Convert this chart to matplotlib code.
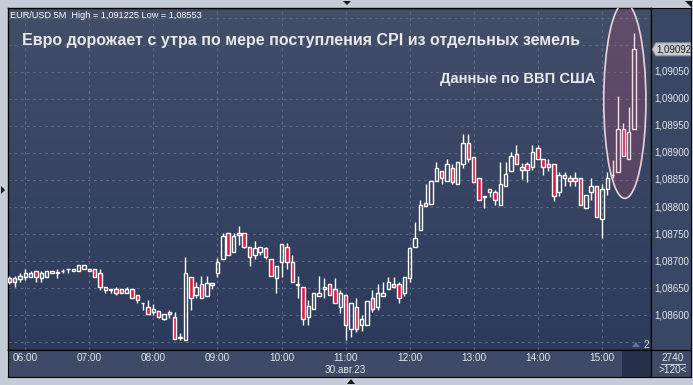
import numpy as np
import matplotlib
matplotlib.use('Agg')
import matplotlib.pyplot as plt
from matplotlib.colors import LinearSegmentedColormap
from matplotlib.patches import Ellipse, Polygon, Rectangle

plt.rcParams['font.family'] = ['Liberation Sans', 'DejaVu Sans']

# EUR/USD 5M candles, 05:45 .. 15:30 (30.08.23)
opens = [1.08668, 1.08668, 1.08667, 1.08671, 1.08671, 1.08682, 1.08668, 1.08671, 1.08677, 1.08678,
         1.08681, 1.08685, 1.08682, 1.08682, 1.08686, 1.08686, 1.08686, 1.08677, 1.08646, 1.08646,
         1.08648, 1.08648, 1.08640, 1.08648, 1.08637, 1.08622, 1.08615, 1.08606, 1.08607, 1.08593,
         1.08606, 1.08596, 1.08558, 1.08554, 1.08671, 1.08637, 1.08657, 1.08636, 1.08656, 1.08677,
         1.08704, 1.08751, 1.08716, 1.08751, 1.08751, 1.08726, 1.08712, 1.08716, 1.08724, 1.08703,
         1.08668, 1.08699, 1.08726, 1.08698, 1.08656, 1.08651, 1.08597, 1.08611, 1.08636, 1.08648,
         1.08657, 1.08648, 1.08615, 1.08637, 1.08575, 1.08615, 1.08581, 1.08581, 1.08631, 1.08615,
         1.08636, 1.08648, 1.08657, 1.08657, 1.08640, 1.08668, 1.08726, 1.08757, 1.08807, 1.08806,
         1.08848, 1.08867, 1.08848, 1.08873, 1.08842, 1.08879, 1.08918, 1.08893, 1.08853, 1.08818,
         1.08827, 1.08827, 1.08804, 1.08839, 1.08867, 1.08899, 1.08874, 1.08879, 1.08874, 1.08909,
         1.08888, 1.08879, 1.08880, 1.08827, 1.08853, 1.08853, 1.08853, 1.08853, 1.08798, 1.08827,
         1.08839, 1.08777, 1.08833, 1.08859, 1.08865, 1.08944, 1.08888, 1.08944]
highs = [1.08672, 1.08672, 1.08677, 1.08686, 1.08682, 1.08682, 1.08682, 1.08682, 1.08682, 1.08685,
         1.08686, 1.08686, 1.08686, 1.08693, 1.08693, 1.08686, 1.08686, 1.08686, 1.08651, 1.08649,
         1.08651, 1.08648, 1.08651, 1.08648, 1.08637, 1.08622, 1.08628, 1.08620, 1.08607, 1.08602,
         1.08609, 1.08606, 1.08566, 1.08708, 1.08671, 1.08661, 1.08673, 1.08673, 1.08660, 1.08706,
         1.08751, 1.08751, 1.08751, 1.08764, 1.08751, 1.08726, 1.08737, 1.08726, 1.08726, 1.08703,
         1.08691, 1.08731, 1.08733, 1.08712, 1.08673, 1.08651, 1.08628, 1.08640, 1.08672, 1.08668,
         1.08657, 1.08668, 1.08646, 1.08637, 1.08622, 1.08631, 1.08600, 1.08626, 1.08646, 1.08657,
         1.08662, 1.08671, 1.08671, 1.08661, 1.08671, 1.08726, 1.08773, 1.08813, 1.08842, 1.08848,
         1.08883, 1.08867, 1.08889, 1.08879, 1.08883, 1.08935, 1.08935, 1.08893, 1.08853, 1.08821,
         1.08833, 1.08831, 1.08884, 1.08884, 1.08901, 1.08915, 1.08882, 1.08884, 1.08915, 1.08915,
         1.08888, 1.08888, 1.08880, 1.08864, 1.08864, 1.08859, 1.08864, 1.08853, 1.08822, 1.08853,
         1.08839, 1.08843, 1.08864, 1.08887, 1.09006, 1.08955, 1.08986, 1.091225]
lows = [1.08657, 1.08651, 1.08661, 1.08665, 1.08671, 1.08661, 1.08661, 1.08671, 1.08677, 1.08668,
        1.08677, 1.08677, 1.08682, 1.08682, 1.08686, 1.08682, 1.08671, 1.08646, 1.08640, 1.08640,
        1.08637, 1.08640, 1.08640, 1.08631, 1.08622, 1.08609, 1.08602, 1.08600, 1.08594, 1.08591,
        1.08594, 1.08555, 1.08553, 1.08553, 1.08609, 1.08631, 1.08631, 1.08636, 1.08649, 1.08671,
        1.08704, 1.08712, 1.08716, 1.08730, 1.08724, 1.08691, 1.08704, 1.08712, 1.08704, 1.08672,
        1.08640, 1.08671, 1.08686, 1.08661, 1.08631, 1.08581, 1.08581, 1.08611, 1.08636, 1.08631,
        1.08637, 1.08622, 1.08603, 1.08553, 1.08560, 1.08569, 1.08570, 1.08581, 1.08606, 1.08609,
        1.08636, 1.08648, 1.08651, 1.08622, 1.08636, 1.08661, 1.08726, 1.08757, 1.08802, 1.08806,
        1.08848, 1.08842, 1.08848, 1.08842, 1.08842, 1.08873, 1.08883, 1.08847, 1.08813, 1.08798,
        1.08818, 1.08804, 1.08804, 1.08839, 1.08867, 1.08880, 1.08852, 1.08847, 1.08869, 1.08888,
        1.08859, 1.08867, 1.08812, 1.08821, 1.08838, 1.08839, 1.08839, 1.08804, 1.08798, 1.08813,
        1.08782, 1.08742, 1.08822, 1.08853, 1.08865, 1.08894, 1.08888, 1.08944]
closes = [1.08661, 1.08661, 1.08672, 1.08677, 1.08677, 1.08671, 1.08677, 1.08682, 1.08682, 1.08679,
          1.08682, 1.08686, 1.08686, 1.08693, 1.08693, 1.08682, 1.08671, 1.08651, 1.08651, 1.08649,
          1.08640, 1.08640, 1.08649, 1.08631, 1.08628, 1.08622, 1.08602, 1.08611, 1.08597, 1.08602,
          1.08602, 1.08555, 1.08559, 1.08677, 1.08631, 1.08652, 1.08631, 1.08660, 1.08660, 1.08698,
          1.08747, 1.08712, 1.08747, 1.08748, 1.08726, 1.08707, 1.08724, 1.08726, 1.08707, 1.08672,
          1.08691, 1.08731, 1.08699, 1.08661, 1.08657, 1.08592, 1.08617, 1.08640, 1.08640, 1.08651,
          1.08637, 1.08622, 1.08640, 1.08581, 1.08622, 1.08575, 1.08592, 1.08626, 1.08611, 1.08640,
          1.08640, 1.08661, 1.08651, 1.08631, 1.08671, 1.08724, 1.08742, 1.08804, 1.08802, 1.08848,
          1.08873, 1.08853, 1.08879, 1.08847, 1.08883, 1.08918, 1.08889, 1.08847, 1.08813, 1.08821,
          1.08833, 1.08813, 1.08843, 1.08862, 1.08894, 1.08880, 1.08869, 1.08869, 1.08902, 1.08888,
          1.08874, 1.08874, 1.08821, 1.08859, 1.08859, 1.08848, 1.08848, 1.08804, 1.08822, 1.08839,
          1.08782, 1.08833, 1.08853, 1.08860, 1.08944, 1.08894, 1.08938, 1.09092]

hour_labels = ['06:00', '07:00', '08:00', '09:00', '10:00', '11:00', '12:00', '13:00', '14:00', '15:00']
price_levels = [1.0860, 1.0865, 1.0870, 1.0875, 1.0880, 1.0885, 1.0890, 1.0895, 1.0900, 1.0905]
grid_levels = [1.0855, 1.0860, 1.0865, 1.0870, 1.0875, 1.0880, 1.0885, 1.0890, 1.0895, 1.0900, 1.0905, 1.0910, 1.0915]
date_label = '30.авг.23'
header = 'EUR/USD 5M  High = 1,091225 Low = 1,08553'
headline = 'Евро дорожает с утра по мере поступления CPI из отдельных земель'
note = 'Данные по ВВП США'
last_price = 1.09092

W, H = 693, 385
fig = plt.figure(figsize=(W / 100, H / 100), dpi=100)
fig.patch.set_facecolor('#c3ccd7')


def px_box(x0, y0, x1, y1):
    return [x0 / W, 1 - y1 / H, (x1 - x0) / W, (y1 - y0) / H]


def fmt(p):
    return ('%.5f' % p).replace('.', ',')


XLIM = (-0.24, 120.2)
YLIM = (1.085352, 1.091685)
TXT = '#e4e6ea'

# ---- main chart
ax = fig.add_axes(px_box(8, 8, 651, 350))
ax.set_xlim(*XLIM)
ax.set_ylim(*YLIM)
bg = LinearSegmentedColormap.from_list('bg', ['#434e68', '#2c3a5c'])
ax.imshow(np.linspace(0, 1, 256).reshape(-1, 1), cmap=bg, aspect='auto', origin='upper',
          extent=[XLIM[0], XLIM[1], YLIM[0], YLIM[1]], zorder=0)

hour_pos = [3 + 12 * k for k in range(len(hour_labels))]
for hp in hour_pos:
    ax.axvline(hp, color='#5a6684', lw=0.8, ls=(0, (2.5, 3)), zorder=1)
for gl in grid_levels:
    ax.axhline(gl, color='#5a6684', lw=0.8, ls=(0, (2.5, 3)), zorder=1)

x = np.arange(len(opens))
o, h, l, c = map(np.array, (opens, highs, lows, closes))
up = c >= o
top = np.maximum(o, c)
bot = np.minimum(o, c)
ax.vlines(x, top, h, color='white', lw=1, zorder=3)
ax.vlines(x, l, bot, color='white', lw=1, zorder=3)
ax.bar(x[up], (top - bot)[up], bottom=bot[up], width=0.64, facecolor='none',
       edgecolor='white', lw=1, zorder=4)
ax.bar(x[~up], (top - bot)[~up], bottom=bot[~up], width=0.64, facecolor='#e5163f',
       edgecolor='white', lw=1, zorder=4)

# highlight of the GDP spike
ax.add_patch(Ellipse((115.3, 1.08997), 7.9, 0.00362, facecolor=(0.85, 0.3, 0.45, 0.2),
                     edgecolor='#ead3db', lw=1.2, zorder=5))

ax.set_xticks([])
ax.set_yticks([])
for s in ax.spines.values():
    s.set_color('black')
    s.set_linewidth(1)

fig.text(10 / W, 1 - 15 / H, header, fontsize=6.6, color='white', va='center')
fig.text(22 / W, 1 - 45 / H, headline, fontsize=11.5, fontweight='bold', color='#e6e8ec', va='baseline')
fig.text(440 / W, 1 - 83 / H, note, fontsize=10.6, fontweight='bold', color='#e6e8ec', va='baseline')
fig.text(643 / W, 1 - 345 / H, '2', fontsize=7.4, color='#e0e0e0', va='center')
fig.patches.append(Polygon([(632 / W, 1 - 347 / H), (640 / W, 1 - 347 / H), (636 / W, 1 - 342 / H)],
                           closed=True, transform=fig.transFigure, facecolor='#6a7490', edgecolor='none'))

# ---- price axis
axr = fig.add_axes(px_box(651, 8, 691, 350))
axr.set_xlim(0, 1)
axr.set_ylim(*YLIM)
axr.set_facecolor('#3a4764')
axr.set_xticks([])
axr.set_yticks([])
for s in axr.spines.values():
    s.set_color('black')
for p in price_levels:
    axr.text(0.08, p, fmt(p), fontsize=7.0, color=TXT, va='center', ha='left')
dh = 0.00012
axr.add_patch(Polygon([(0.03, last_price), (0.12, last_price + dh), (0.99, last_price + dh),
                       (0.99, last_price - dh), (0.12, last_price - dh)], closed=True,
                      facecolor='#c9ccd3', edgecolor='#8d929c', lw=0.8, zorder=3))
axr.text(0.13, last_price, fmt(last_price), fontsize=7.0, color='#1c1c1c', va='center', zorder=4)

# ---- time axis
axt = fig.add_axes(px_box(8, 350, 651, 377))
axt.set_xlim(*XLIM)
axt.set_ylim(0, 1)
axt.set_facecolor('#3e4a66')
axt.set_xticks([])
axt.set_yticks([])
for s in axt.spines.values():
    s.set_color('black')
for hp, lab in zip(hour_pos, hour_labels):
    axt.text(hp, 0.7, lab, fontsize=7.2, color=TXT, ha='center', va='center')
axt.text(63, 0.25, date_label, fontsize=7.2, color=TXT, ha='center', va='center')
axt.add_patch(Rectangle((114.8, 0.0), XLIM[1] - 114.8, 1.0, facecolor='#27314b', edgecolor='none'))

# ---- corner box
axc = fig.add_axes(px_box(651, 350, 691, 377))
axc.set_xlim(0, 1)
axc.set_ylim(0, 1)
axc.set_facecolor('#3e4a66')
axc.set_xticks([])
axc.set_yticks([])
for s in axc.spines.values():
    s.set_color('black')
axc.text(0.55, 0.72, '2740', fontsize=7.2, color=TXT, ha='center', va='center')
axc.plot([0.26, 0.84], [0.5, 0.5], color=TXT, lw=0.6)
axc.text(0.55, 0.25, '>120<', fontsize=7.2, color=TXT, ha='center', va='center')

# ---- little frame arrows
for pts in ([(343, 1), (351, 1), (347, 5)], [(685, 1), (692, 1), (692, 8)],
            [(1, 186), (1, 194), (5, 190)], [(347, 384), (355, 384), (351, 379)]):
    fig.patches.append(Polygon([(px / W, 1 - py / H) for px, py in pts], closed=True,
                               transform=fig.transFigure, facecolor='#1a1a1a', edgecolor='none'))

plt.savefig('out.png', dpi=100, facecolor=fig.get_facecolor())
